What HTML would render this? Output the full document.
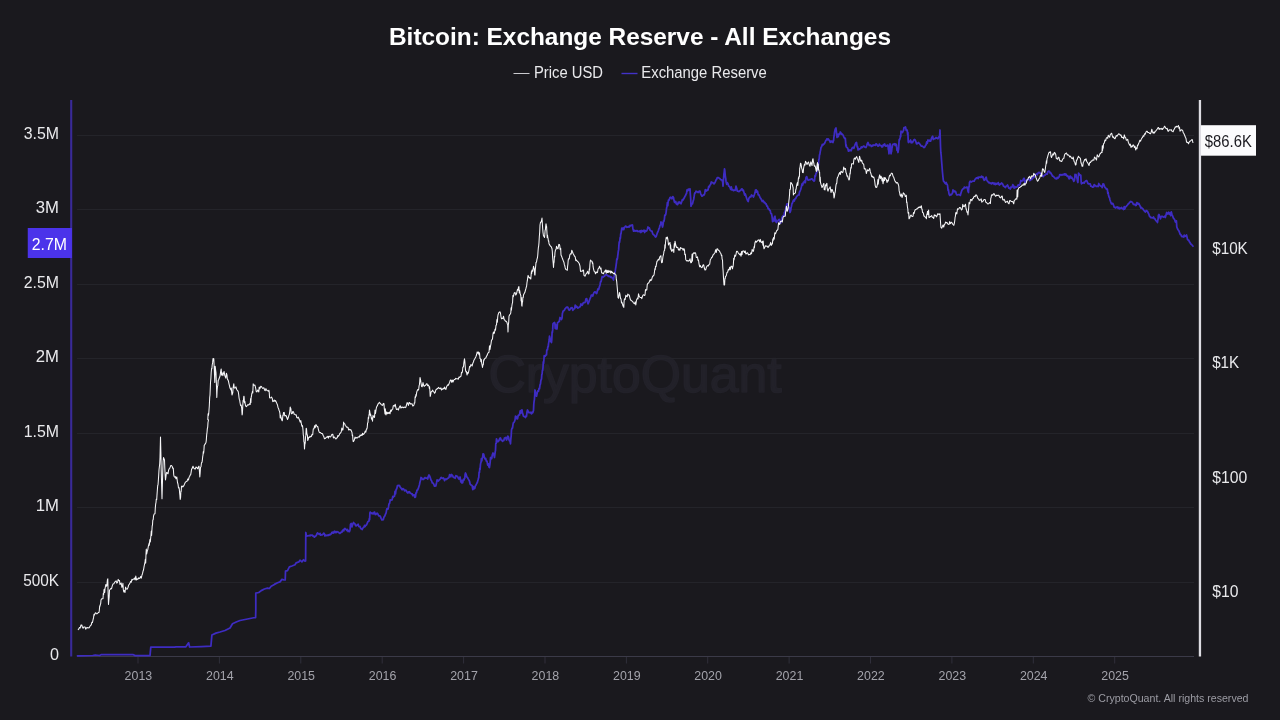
<!DOCTYPE html>
<html lang="en"><head><meta charset="utf-8"><title>Bitcoin: Exchange Reserve - All Exchanges</title>
<style>
html,body{margin:0;padding:0;background:#1a191e;}
body{width:1280px;height:720px;position:relative;overflow:hidden;font-family:"Liberation Sans",sans-serif;}
svg text{font-family:"Liberation Sans",sans-serif;}
</style></head><body>
<svg width="1280" height="720" viewBox="0 0 1280 720" style="position:absolute;left:0;top:0">
<text x="635" y="391.5" text-anchor="middle" font-size="52" fill="#222129" textLength="293" lengthAdjust="spacingAndGlyphs" stroke="#222129" stroke-width="1.6" stroke-linejoin="round">CryptoQuant</text>
<line x1="77" x2="1194" y1="135.5" y2="135.5" stroke="#24242a" stroke-width="1"/>
<line x1="77" x2="1194" y1="209.5" y2="209.5" stroke="#24242a" stroke-width="1"/>
<line x1="77" x2="1194" y1="284.5" y2="284.5" stroke="#24242a" stroke-width="1"/>
<line x1="77" x2="1194" y1="358.5" y2="358.5" stroke="#24242a" stroke-width="1"/>
<line x1="77" x2="1194" y1="433.5" y2="433.5" stroke="#24242a" stroke-width="1"/>
<line x1="77" x2="1194" y1="507.5" y2="507.5" stroke="#24242a" stroke-width="1"/>
<line x1="77" x2="1194" y1="582.5" y2="582.5" stroke="#24242a" stroke-width="1"/>
<line x1="77" x2="1194" y1="656.5" y2="656.5" stroke="#3b3a48" stroke-width="1"/>
<line x1="138.0" x2="138.0" y1="657" y2="663.5" stroke="#302f3b" stroke-width="1"/>
<line x1="219.4" x2="219.4" y1="657" y2="663.5" stroke="#302f3b" stroke-width="1"/>
<line x1="300.8" x2="300.8" y1="657" y2="663.5" stroke="#302f3b" stroke-width="1"/>
<line x1="382.2" x2="382.2" y1="657" y2="663.5" stroke="#302f3b" stroke-width="1"/>
<line x1="463.6" x2="463.6" y1="657" y2="663.5" stroke="#302f3b" stroke-width="1"/>
<line x1="545.0" x2="545.0" y1="657" y2="663.5" stroke="#302f3b" stroke-width="1"/>
<line x1="626.4" x2="626.4" y1="657" y2="663.5" stroke="#302f3b" stroke-width="1"/>
<line x1="707.7" x2="707.7" y1="657" y2="663.5" stroke="#302f3b" stroke-width="1"/>
<line x1="789.1" x2="789.1" y1="657" y2="663.5" stroke="#302f3b" stroke-width="1"/>
<line x1="870.5" x2="870.5" y1="657" y2="663.5" stroke="#302f3b" stroke-width="1"/>
<line x1="951.9" x2="951.9" y1="657" y2="663.5" stroke="#302f3b" stroke-width="1"/>
<line x1="1033.3" x2="1033.3" y1="657" y2="663.5" stroke="#302f3b" stroke-width="1"/>
<line x1="1114.7" x2="1114.7" y1="657" y2="663.5" stroke="#302f3b" stroke-width="1"/>
<rect x="70.15" y="100" width="2.1" height="556.5" fill="#392a98"/>
<rect x="1198.8" y="100" width="2.3" height="556.5" fill="#dddce2"/>
<path d="M77.5,655.8 L92.8,655.5 L95.2,655.0 L99.6,655.5 L101.5,654.5 L132.8,654.5 L135.2,655.6 L150.0,655.6 L150.8,647.2 L174.6,647.2 L175.9,646.8 L185.9,646.8 L188.6,642.8 L189.6,647.0 L201.5,646.6 L210.9,646.2 L211.9,635.0 L215.9,633.1 L220.0,632.0 L225.0,630.5 L230.0,628.0 L232.5,623.8 L236.2,622.0 L240.0,620.5 L245.0,619.5 L250.0,618.5 L255.0,617.5 L255.6,617.5 L255.8,609.5 L255.8,593.1 L258.8,592.5 L261.2,590.6 L264.4,589.0 L267.5,588.1 L269.4,588.5 L271.2,586.2 L274.4,584.4 L277.5,582.8 L280.0,581.9 L281.9,579.4 L283.8,579.8 L285.2,580.0 L285.5,571.2 L287.5,570.6 L289.4,566.9 L291.9,566.0 L295.0,564.8 L296.2,562.8 L298.8,561.9 L300.0,560.2 L301.9,561.9 L303.5,559.8 L305.0,561.2 L305.6,561.0 L305.8,532.5 L306.5,536.2 L308.8,535.6 L309.4,535.4 L310.0,535.8 L310.6,535.2 L311.2,535.2 L311.9,535.3 L312.5,535.2 L313.1,536.2 L313.8,536.2 L314.4,537.2 L315.0,536.5 L315.6,536.0 L316.2,535.7 L316.9,533.9 L317.5,532.8 L318.1,533.6 L318.8,534.0 L319.4,534.4 L320.0,533.3 L320.6,535.2 L321.2,534.8 L321.9,534.9 L322.5,534.6 L323.1,534.0 L323.8,533.2 L324.4,533.8 L325.0,536.0 L325.6,535.2 L326.2,535.3 L326.9,535.7 L327.5,535.2 L328.1,535.1 L328.8,535.4 L329.4,534.4 L330.0,534.8 L330.6,534.4 L331.2,533.8 L331.9,532.3 L332.5,532.2 L333.1,533.2 L333.8,532.0 L334.4,531.2 L335.0,532.6 L335.6,531.6 L336.2,532.5 L336.9,531.6 L337.5,531.9 L338.1,532.0 L338.8,532.6 L339.4,533.1 L340.0,533.4 L340.6,532.9 L341.2,532.1 L341.9,532.2 L342.5,530.4 L343.1,530.0 L343.8,530.8 L344.4,528.8 L345.0,528.4 L345.6,529.3 L346.2,529.4 L346.9,530.5 L347.5,529.4 L348.1,531.5 L348.8,531.0 L349.4,531.6 L350.0,530.0 L350.5,524.4 L351.2,523.5 L351.9,526.9 L352.7,524.3 L353.5,522.5 L354.2,523.4 L354.9,523.8 L355.6,525.6 L356.2,525.8 L356.9,525.2 L357.5,525.0 L358.1,524.2 L358.8,526.4 L359.4,526.7 L360.0,526.5 L360.8,528.6 L361.5,528.8 L362.1,529.5 L362.8,528.2 L363.4,527.5 L364.0,527.0 L364.6,525.4 L365.2,526.5 L365.9,525.0 L366.5,525.0 L367.1,523.6 L367.8,521.9 L368.4,521.2 L369.0,521.2 L369.3,518.7 L369.6,519.6 L369.9,513.1 L370.2,512.1 L370.5,512.5 L371.2,512.8 L372.0,513.8 L372.8,513.0 L373.4,513.8 L374.0,512.3 L374.6,512.1 L375.2,514.5 L375.9,514.6 L376.5,513.6 L377.1,513.1 L377.8,513.8 L378.4,515.2 L379.0,516.0 L379.6,515.8 L380.2,516.2 L381.1,518.4 L382.0,520.0 L382.7,519.4 L383.3,519.6 L384.0,517.0 L384.7,516.1 L385.4,514.4 L386.1,512.8 L386.8,508.8 L387.5,509.0 L388.0,509.1 L388.5,506.9 L389.0,503.8 L389.6,503.3 L390.2,499.9 L390.9,500.3 L391.5,500.0 L392.1,499.9 L392.8,496.3 L393.4,497.0 L394.0,496.2 L394.5,496.1 L395.0,491.3 L395.5,493.8 L396.0,490.0 L396.8,488.5 L397.5,485.5 L398.2,485.4 L398.8,485.7 L399.5,485.5 L400.2,487.2 L400.8,487.8 L401.5,488.8 L402.1,489.8 L402.8,488.6 L403.4,489.0 L404.0,489.5 L404.6,490.8 L405.2,490.4 L405.9,490.1 L406.5,491.2 L407.1,492.3 L407.8,493.0 L408.4,491.8 L409.0,492.5 L409.6,491.8 L410.2,493.0 L410.9,493.3 L411.5,493.8 L412.2,493.9 L412.8,495.7 L413.5,495.0 L414.2,494.8 L414.8,497.4 L415.5,497.0 L415.9,493.4 L416.2,492.4 L416.6,492.7 L417.0,490.0 L417.7,490.0 L418.3,488.4 L419.0,486.2 L419.4,485.0 L419.8,483.0 L420.2,481.2 L420.6,480.1 L421.0,477.5 L421.7,478.0 L422.3,479.1 L423.0,479.5 L423.7,479.3 L424.3,478.2 L425.0,477.5 L425.7,478.2 L426.3,478.2 L427.0,478.0 L427.7,479.0 L428.3,476.3 L429.0,475.0 L429.7,476.1 L430.3,477.9 L431.0,480.0 L431.7,481.0 L432.3,482.9 L433.0,483.0 L433.8,484.2 L434.5,486.2 L435.2,485.6 L435.8,486.0 L436.5,483.0 L437.1,479.9 L437.8,480.5 L438.4,481.0 L439.0,480.0 L439.6,479.7 L440.2,479.0 L440.9,477.7 L441.5,477.5 L442.1,478.3 L442.8,478.3 L443.4,478.0 L444.0,478.8 L444.6,480.7 L445.2,479.4 L445.9,478.9 L446.5,479.5 L447.1,478.9 L447.8,478.3 L448.4,477.9 L449.0,477.5 L449.6,474.7 L450.2,476.1 L450.8,476.8 L451.4,474.5 L452.0,475.0 L452.6,475.6 L453.2,477.1 L453.9,477.6 L454.5,477.5 L455.1,478.3 L455.8,475.6 L456.4,476.3 L457.0,476.2 L457.6,476.6 L458.2,478.0 L458.9,479.1 L459.5,478.8 L460.1,477.0 L460.8,482.0 L461.4,480.4 L462.0,483.0 L462.7,482.7 L463.3,479.5 L464.0,480.0 L464.4,478.5 L464.8,478.2 L465.1,474.5 L465.5,473.0 L466.2,474.7 L466.8,476.9 L467.5,477.5 L468.2,478.9 L468.8,479.9 L469.5,481.2 L470.2,484.2 L470.8,484.9 L471.5,485.0 L472.1,485.6 L472.8,489.6 L473.4,486.7 L474.0,488.8 L474.7,488.5 L475.3,486.0 L476.0,485.0 L476.7,483.5 L477.3,482.5 L478.0,480.0 L478.4,478.4 L478.8,477.2 L479.1,472.2 L479.5,472.5 L479.8,468.3 L480.1,469.4 L480.4,465.1 L480.7,463.0 L481.0,462.5 L481.4,458.6 L481.8,460.8 L482.2,458.3 L482.6,457.6 L483.0,453.8 L483.7,454.3 L484.3,457.1 L485.0,458.8 L485.7,458.5 L486.3,461.1 L487.0,461.2 L487.7,465.2 L488.3,463.9 L489.0,467.0 L489.4,467.6 L489.8,465.1 L490.2,461.8 L490.6,457.5 L491.0,458.8 L491.7,458.7 L492.3,454.8 L493.0,453.0 L493.8,454.4 L494.5,457.5 L494.8,455.0 L495.2,451.8 L495.5,450.3 L495.8,443.5 L496.2,443.5 L496.5,438.8 L497.2,441.0 L497.8,441.8 L498.5,441.2 L499.2,440.0 L499.8,438.3 L500.5,438.0 L501.2,440.1 L501.8,440.3 L502.5,441.2 L503.2,440.3 L503.8,440.5 L504.5,438.0 L505.2,438.4 L505.8,437.3 L506.5,440.0 L507.2,438.6 L507.8,436.2 L508.5,437.0 L509.0,439.8 L509.5,440.8 L510.0,441.2 L510.5,443.8 L510.8,439.2 L511.2,435.8 L511.5,430.0 L512.0,428.2 L512.5,428.2 L513.0,424.3 L513.5,422.5 L514.0,422.4 L514.5,421.4 L515.0,420.0 L515.5,416.2 L516.2,416.5 L516.8,418.7 L517.5,418.8 L518.2,415.5 L518.8,415.1 L519.5,415.0 L520.2,410.9 L520.8,413.0 L521.5,410.0 L522.0,409.9 L522.5,413.1 L523.0,414.4 L523.5,416.2 L524.2,416.6 L524.8,416.6 L525.5,417.5 L526.0,416.0 L526.5,416.3 L527.0,411.9 L527.5,410.0 L528.2,411.3 L528.8,412.6 L529.5,412.5 L530.2,412.8 L530.8,412.3 L531.5,413.8 L532.2,412.1 L532.8,412.7 L533.5,410.5 L533.8,404.0 L534.1,401.4 L534.4,399.7 L534.7,395.2 L535.0,390.0 L535.4,391.6 L535.8,394.3 L536.1,394.9 L536.5,396.2 L537.2,393.1 L537.8,391.0 L538.5,391.2 L539.0,388.5 L539.5,388.8 L540.0,384.8 L540.5,383.8 L540.8,380.9 L541.2,379.5 L541.5,379.0 L541.8,374.5 L542.1,374.2 L542.4,370.4 L542.7,370.3 L543.0,367.5 L543.3,361.8 L543.6,363.5 L543.9,359.8 L544.2,355.7 L544.5,356.2 L545.2,356.4 L545.8,355.2 L546.5,355.0 L546.8,349.9 L547.2,350.0 L547.5,349.8 L547.8,346.8 L548.2,346.8 L548.5,343.8 L548.8,342.3 L549.2,339.7 L549.5,336.2 L550.0,338.3 L550.5,341.2 L551.0,341.8 L551.5,342.5 L551.8,339.4 L552.1,332.0 L552.4,332.5 L552.7,329.4 L553.0,323.8 L553.8,322.9 L554.5,322.5 L554.9,323.4 L555.2,328.4 L555.6,324.6 L556.0,328.8 L556.5,327.8 L557.0,328.9 L557.5,322.8 L558.0,322.5 L558.7,321.7 L559.3,321.5 L560.0,317.5 L560.8,318.4 L561.5,319.5 L561.8,318.7 L562.1,317.5 L562.4,313.2 L562.7,312.8 L563.0,311.2 L563.7,310.7 L564.3,310.4 L565.0,308.8 L565.7,308.1 L566.3,307.4 L567.0,307.0 L567.7,307.0 L568.3,308.6 L569.0,310.0 L569.6,310.2 L570.2,309.1 L570.9,307.8 L571.5,308.0 L572.1,307.6 L572.8,310.3 L573.4,309.4 L574.0,308.8 L574.6,308.7 L575.2,305.2 L575.9,307.4 L576.5,306.2 L577.1,306.9 L577.8,308.2 L578.4,307.5 L579.0,307.5 L579.6,306.8 L580.2,306.7 L580.9,303.9 L581.5,305.0 L582.1,305.3 L582.8,304.0 L583.4,302.5 L584.0,302.5 L584.7,302.7 L585.3,301.9 L586.0,298.8 L586.7,298.7 L587.3,301.3 L588.0,303.8 L588.7,302.4 L589.3,300.6 L590.0,298.8 L590.7,297.1 L591.3,295.2 L592.0,295.0 L592.7,296.1 L593.3,294.3 L594.0,292.5 L594.7,291.8 L595.3,291.9 L596.0,293.0 L596.7,293.5 L597.3,291.3 L598.0,288.8 L598.7,289.5 L599.3,287.1 L600.0,285.0 L600.5,281.9 L601.0,281.7 L601.5,279.5 L602.1,276.6 L602.8,277.2 L603.4,277.0 L604.0,276.2 L604.6,276.2 L605.2,274.8 L605.9,274.8 L606.5,274.5 L607.1,275.3 L607.8,275.7 L608.4,276.3 L609.0,276.2 L609.6,276.6 L610.2,276.4 L610.9,277.4 L611.5,277.0 L612.2,278.0 L612.8,278.2 L613.5,280.0 L613.9,277.2 L614.2,276.2 L614.6,274.2 L615.0,272.5 L615.3,270.7 L615.6,268.5 L615.9,266.8 L616.2,264.3 L616.5,262.5 L616.8,258.9 L617.1,259.6 L617.4,258.8 L617.7,256.1 L618.0,253.8 L618.3,251.2 L618.6,249.9 L618.9,245.6 L619.2,242.0 L619.5,242.5 L619.8,240.8 L620.1,237.7 L620.4,238.3 L620.7,233.9 L621.0,233.8 L621.8,228.2 L622.5,229.5 L623.1,228.0 L623.8,229.6 L624.4,227.3 L625.0,227.0 L625.6,226.1 L626.2,226.5 L626.9,227.3 L627.5,227.0 L628.1,227.0 L628.8,226.4 L629.4,227.0 L630.0,225.5 L630.6,225.9 L631.2,225.2 L631.9,225.5 L632.5,225.0 L632.9,229.0 L633.2,229.5 L633.6,231.2 L634.0,231.2 L634.6,230.3 L635.2,230.8 L635.9,231.2 L636.5,230.5 L637.1,230.5 L637.8,231.6 L638.4,231.5 L639.0,231.2 L639.6,231.7 L640.2,230.7 L640.9,232.5 L641.5,230.5 L642.1,231.6 L642.8,230.7 L643.4,231.1 L644.0,231.2 L644.0,230.0 L644.7,232.5 L645.3,230.6 L646.0,231.2 L646.7,230.8 L647.3,229.5 L648.0,227.0 L648.7,228.0 L649.3,227.8 L650.0,230.0 L650.7,230.6 L651.3,231.1 L652.0,231.2 L652.7,233.7 L653.3,234.6 L654.0,235.0 L654.8,236.0 L655.5,237.0 L656.2,236.5 L656.8,234.6 L657.5,232.5 L658.2,231.1 L658.8,229.2 L659.5,227.5 L660.0,225.3 L660.5,224.8 L661.0,222.0 L661.5,222.2 L662.0,224.4 L662.5,227.0 L663.0,225.1 L663.5,221.0 L664.0,221.2 L664.4,219.1 L664.8,215.2 L665.1,215.6 L665.5,215.0 L665.8,214.1 L666.1,212.3 L666.4,209.7 L666.7,207.7 L667.0,206.2 L667.4,202.6 L667.8,205.8 L668.1,202.3 L668.5,200.0 L669.2,199.9 L670.0,197.5 L670.7,197.2 L671.3,198.2 L672.0,198.8 L672.8,196.6 L673.5,197.5 L674.0,200.3 L674.5,202.2 L675.0,202.5 L675.7,201.5 L676.3,203.8 L677.0,204.5 L677.7,204.5 L678.3,202.1 L679.0,203.0 L679.7,201.9 L680.3,202.7 L681.0,203.8 L681.7,201.8 L682.3,199.7 L683.0,200.0 L683.7,198.8 L684.3,197.8 L685.0,196.2 L685.5,195.6 L686.0,194.1 L686.5,193.6 L687.0,190.0 L687.7,190.8 L688.3,189.1 L689.0,190.0 L690.0,188.8 L690.3,193.9 L690.7,198.9 L691.0,206.2 L691.8,203.9 L692.5,203.8 L692.9,202.1 L693.2,200.6 L693.6,199.8 L694.0,197.5 L694.5,193.8 L695.0,192.7 L695.5,192.8 L696.0,191.2 L696.7,191.5 L697.3,191.8 L698.0,192.5 L698.7,192.0 L699.3,191.1 L700.0,191.2 L700.7,193.8 L701.3,195.0 L702.0,196.2 L702.7,195.8 L703.3,194.9 L704.0,195.0 L704.7,193.6 L705.3,189.6 L706.0,191.2 L706.7,190.1 L707.3,190.4 L708.0,190.0 L708.7,186.5 L709.3,186.9 L710.0,185.0 L710.7,184.3 L711.3,182.0 L712.0,182.5 L712.7,182.7 L713.3,183.1 L714.0,183.8 L714.7,183.0 L715.3,181.9 L716.0,180.0 L716.7,179.1 L717.3,177.5 L718.0,177.5 L718.7,177.8 L719.3,178.3 L720.0,178.8 L720.7,179.7 L721.3,179.8 L722.0,180.0 L722.3,181.0 L722.7,182.2 L723.0,186.2 L723.3,182.2 L723.6,178.2 L723.9,174.1 L724.2,172.1 L724.5,168.8 L724.8,170.5 L725.1,173.9 L725.4,177.0 L725.7,178.2 L726.0,181.2 L726.7,184.3 L727.3,182.6 L728.0,183.8 L728.7,186.2 L729.3,186.4 L730.0,187.5 L730.7,189.4 L731.3,186.9 L732.0,190.0 L732.7,189.6 L733.3,190.5 L734.0,190.5 L734.7,189.8 L735.3,190.3 L736.0,186.2 L736.7,188.3 L737.3,191.1 L738.0,191.2 L738.7,191.6 L739.3,191.4 L740.0,190.5 L740.7,190.3 L741.3,189.2 L742.0,188.8 L742.7,190.5 L743.3,190.1 L744.0,192.5 L744.7,195.0 L745.3,193.9 L746.0,196.2 L746.8,198.7 L747.5,200.5 L748.2,201.6 L748.8,198.3 L749.5,197.5 L750.2,196.7 L750.8,196.9 L751.5,195.0 L752.2,195.7 L752.8,195.6 L753.5,197.0 L754.0,195.6 L754.5,194.3 L755.0,192.8 L755.5,190.0 L756.2,189.8 L756.8,192.2 L757.5,191.2 L758.2,194.9 L758.8,194.6 L759.5,196.2 L760.2,197.8 L760.8,198.3 L761.5,200.0 L762.2,201.5 L762.8,200.3 L763.5,201.2 L764.2,202.7 L764.8,202.5 L765.5,203.8 L766.2,203.9 L766.8,206.1 L767.5,206.2 L768.2,208.9 L768.8,208.7 L769.5,210.0 L770.2,210.5 L770.8,213.4 L771.5,213.8 L771.9,215.6 L772.2,217.9 L772.6,221.6 L773.0,221.2 L773.7,221.0 L774.3,217.3 L775.0,216.2 L775.4,221.1 L775.8,219.4 L776.1,222.1 L776.5,222.5 L777.2,221.1 L777.8,220.8 L778.5,220.0 L779.2,219.4 L780.0,222.5 L780.7,223.0 L781.3,220.8 L782.0,217.5 L782.7,216.1 L783.3,215.5 L784.0,216.2 L784.4,212.3 L784.8,214.8 L785.1,210.9 L785.5,210.0 L785.9,208.3 L786.2,206.4 L786.6,205.1 L787.0,203.8 L787.8,203.9 L788.5,206.2 L788.9,207.8 L789.2,207.3 L789.6,210.8 L790.0,212.5 L790.4,211.4 L790.8,210.1 L791.1,207.5 L791.5,206.2 L792.0,203.3 L792.5,203.1 L793.0,201.2 L793.7,200.0 L794.3,201.0 L795.0,198.8 L795.7,198.6 L796.3,197.0 L797.0,196.2 L797.7,195.5 L798.3,194.9 L799.0,195.0 L799.5,192.0 L800.0,191.2 L800.5,190.0 L800.9,188.9 L801.2,187.6 L801.6,186.1 L802.0,183.8 L802.7,185.0 L803.3,182.4 L804.0,182.5 L804.7,180.8 L805.3,182.6 L806.0,177.5 L806.7,176.6 L807.3,178.7 L808.0,180.0 L808.7,180.0 L809.3,179.8 L810.0,179.5 L810.7,179.5 L811.3,178.8 L812.0,178.8 L812.7,179.9 L813.3,180.5 L814.0,181.2 L814.5,180.7 L815.0,175.3 L815.5,176.2 L816.0,173.3 L816.5,172.9 L817.0,171.2 L817.4,167.9 L817.8,166.0 L818.1,166.5 L818.5,163.8 L818.8,159.9 L819.2,158.8 L819.5,155.0 L819.9,154.2 L820.2,151.7 L820.6,150.1 L821.0,147.5 L821.7,146.6 L822.3,144.5 L823.0,145.0 L823.7,144.1 L824.3,143.8 L825.0,142.5 L825.7,140.7 L826.3,139.9 L827.0,138.8 L827.7,139.8 L828.3,138.9 L829.0,140.0 L829.7,140.9 L830.3,142.3 L831.0,141.2 L831.7,141.2 L832.3,142.2 L833.0,142.5 L833.3,140.3 L833.6,140.7 L833.9,137.0 L834.2,135.8 L834.5,132.5 L835.2,129.3 L836.0,128.0 L836.3,131.1 L836.7,134.3 L837.0,137.5 L837.7,134.3 L838.3,136.6 L839.0,133.8 L839.7,134.2 L840.3,132.0 L841.0,133.0 L841.7,134.3 L842.3,134.2 L843.0,135.0 L843.7,136.7 L844.3,137.9 L845.0,138.8 L845.3,138.3 L845.6,141.9 L845.9,146.2 L846.2,144.9 L846.5,147.5 L847.2,147.6 L847.8,148.5 L848.5,151.2 L849.2,149.9 L849.8,150.7 L850.5,150.0 L851.2,150.7 L851.8,148.7 L852.5,147.5 L853.2,147.3 L853.8,148.4 L854.5,146.2 L855.2,144.4 L855.8,143.0 L856.5,142.5 L856.9,145.1 L857.2,147.0 L857.6,146.7 L858.0,150.0 L858.7,148.7 L859.3,149.4 L860.0,148.8 L860.7,148.5 L861.3,146.9 L862.0,147.5 L862.7,146.9 L863.3,146.2 L864.0,146.2 L864.7,147.0 L865.3,147.0 L866.0,147.5 L866.7,145.7 L867.3,143.7 L868.0,142.5 L868.7,144.3 L869.3,145.5 L870.0,145.0 L870.7,145.1 L871.3,146.5 L872.0,146.2 L872.7,145.2 L873.3,145.5 L874.0,145.0 L874.7,145.2 L875.3,145.4 L876.0,143.8 L876.7,144.2 L877.3,145.3 L878.0,146.2 L878.7,146.0 L879.3,144.2 L880.0,145.0 L880.7,145.7 L881.3,145.7 L882.0,147.0 L882.7,146.7 L883.3,144.7 L884.0,145.0 L884.7,143.9 L885.3,145.9 L886.0,146.2 L886.7,146.0 L887.3,145.0 L888.0,145.0 L888.3,149.2 L888.7,150.4 L889.0,153.8 L889.3,149.5 L889.7,147.8 L890.0,143.8 L890.3,144.8 L890.7,149.4 L891.0,153.8 L891.3,152.0 L891.6,151.5 L891.9,148.3 L892.2,147.2 L892.5,145.0 L893.2,144.1 L893.8,144.4 L894.5,143.8 L895.2,145.5 L895.8,144.0 L896.5,145.0 L896.9,150.3 L897.2,147.8 L897.6,150.6 L898.0,152.5 L898.3,150.3 L898.6,149.0 L898.9,143.2 L899.2,139.5 L899.5,140.0 L899.8,139.1 L900.1,137.7 L900.4,135.7 L900.7,136.8 L901.0,131.2 L901.8,132.0 L902.5,132.5 L903.0,131.2 L903.5,130.5 L904.0,127.5 L904.8,127.5 L905.5,127.0 L906.2,130.3 L907.0,130.0 L907.3,130.7 L907.6,134.5 L907.9,132.5 L908.2,141.2 L908.5,142.5 L909.2,141.3 L909.8,141.7 L910.5,140.0 L911.2,142.8 L911.8,141.7 L912.5,142.5 L913.2,141.2 L913.8,140.0 L914.5,139.5 L915.2,140.0 L915.8,141.6 L916.5,143.8 L917.2,143.8 L917.8,142.9 L918.5,142.5 L919.2,143.4 L919.8,144.0 L920.5,145.0 L921.2,146.1 L921.8,146.2 L922.5,146.2 L923.2,146.8 L924.0,147.5 L924.7,147.3 L925.3,145.7 L926.0,145.0 L926.7,141.9 L927.3,143.4 L928.0,140.0 L928.7,140.8 L929.3,140.1 L930.0,141.2 L930.7,141.1 L931.3,138.8 L932.0,137.0 L932.7,136.3 L933.3,139.5 L934.0,138.8 L934.7,138.6 L935.3,138.6 L936.0,137.5 L936.7,138.1 L937.3,138.2 L938.0,138.8 L938.8,136.8 L939.5,137.5 L940.0,130.0 L940.5,146.2 L940.8,152.2 L941.2,155.5 L941.5,160.0 L941.8,163.8 L942.2,168.8 L942.5,172.5 L942.8,175.5 L943.2,179.3 L943.5,181.2 L944.2,181.7 L944.8,182.9 L945.5,183.8 L946.2,182.5 L946.8,184.2 L947.5,185.0 L947.8,187.7 L948.1,190.4 L948.4,189.7 L948.7,191.8 L949.0,193.8 L949.7,195.4 L950.3,194.3 L951.0,195.0 L951.7,194.2 L952.3,193.7 L953.0,190.0 L953.7,190.4 L954.3,191.8 L955.0,191.2 L955.7,191.7 L956.3,194.0 L957.0,195.0 L957.7,194.8 L958.3,194.7 L959.0,194.5 L959.7,194.9 L960.3,195.5 L961.0,193.0 L961.7,190.8 L962.3,189.5 L963.0,188.8 L963.7,188.7 L964.3,187.1 L965.0,187.5 L965.7,187.7 L966.3,187.6 L967.0,187.0 L967.5,188.4 L968.0,191.4 L968.5,192.5 L968.8,186.9 L969.2,186.9 L969.5,182.5 L970.2,181.2 L970.8,181.7 L971.5,182.0 L972.2,181.3 L972.8,181.2 L973.5,181.2 L974.2,181.2 L974.8,179.7 L975.5,178.8 L976.2,178.0 L976.8,178.3 L977.5,177.5 L978.2,178.5 L978.8,177.2 L979.5,177.0 L980.2,177.0 L980.8,177.4 L981.5,176.2 L982.2,177.3 L982.8,176.7 L983.5,178.8 L984.2,180.3 L984.8,179.9 L985.5,178.0 L986.2,177.1 L986.8,180.1 L987.5,181.2 L988.2,182.0 L988.8,182.8 L989.5,182.5 L990.2,183.4 L990.8,183.1 L991.5,183.8 L992.2,182.7 L992.8,183.3 L993.5,183.0 L994.2,184.3 L994.8,183.1 L995.5,184.5 L996.2,183.5 L996.8,184.0 L997.5,183.8 L998.2,182.6 L998.8,184.4 L999.5,185.0 L1000.2,184.0 L1000.8,184.1 L1001.5,183.0 L1002.2,183.4 L1002.8,184.3 L1003.5,186.2 L1004.2,186.4 L1004.8,187.0 L1005.5,187.5 L1006.2,186.0 L1006.8,185.8 L1007.5,185.0 L1008.2,186.7 L1008.8,188.2 L1009.5,188.0 L1010.2,189.0 L1010.8,187.1 L1011.5,187.5 L1012.2,186.8 L1012.8,184.7 L1013.5,186.2 L1014.2,188.2 L1014.8,186.5 L1015.5,187.5 L1016.2,187.1 L1016.8,187.1 L1017.5,186.2 L1018.2,184.8 L1018.8,185.8 L1019.5,185.0 L1020.2,183.7 L1020.8,180.5 L1021.5,181.2 L1022.2,180.7 L1022.8,180.7 L1023.5,178.8 L1024.2,178.3 L1025.0,182.5 L1025.8,182.1 L1026.5,180.0 L1027.2,179.7 L1027.8,179.5 L1028.5,178.8 L1029.2,179.5 L1029.8,180.6 L1030.5,180.0 L1031.2,179.1 L1031.8,179.4 L1032.5,178.0 L1033.2,177.1 L1033.8,177.5 L1034.5,176.2 L1035.2,174.7 L1035.8,174.5 L1036.5,173.8 L1037.2,174.7 L1037.8,173.3 L1038.5,172.5 L1039.2,172.8 L1039.8,172.4 L1040.5,173.8 L1041.2,173.8 L1041.8,175.6 L1042.5,176.2 L1043.2,176.6 L1043.8,175.8 L1044.5,175.0 L1045.2,175.0 L1045.8,174.1 L1046.5,173.8 L1047.2,174.2 L1047.8,171.7 L1048.5,171.2 L1049.2,171.2 L1049.8,172.8 L1050.5,172.5 L1051.2,173.8 L1051.8,174.7 L1052.5,176.2 L1053.2,176.2 L1053.8,176.9 L1054.5,177.5 L1055.2,178.4 L1055.8,178.6 L1056.5,178.8 L1057.2,177.4 L1057.8,178.3 L1058.5,177.5 L1059.2,176.7 L1059.8,174.5 L1060.5,174.5 L1061.2,175.2 L1061.8,174.6 L1062.5,175.0 L1063.2,174.3 L1063.8,174.8 L1064.5,173.8 L1065.2,175.2 L1065.8,174.0 L1066.5,175.0 L1067.2,176.2 L1067.8,175.8 L1068.5,177.5 L1069.2,178.9 L1069.8,176.3 L1070.5,176.2 L1071.2,178.2 L1071.8,177.3 L1072.5,178.8 L1073.2,179.8 L1073.8,181.3 L1074.5,180.0 L1075.0,174.5 L1075.5,175.7 L1076.0,174.5 L1076.4,176.9 L1076.8,177.7 L1077.1,178.6 L1077.5,181.2 L1077.9,182.5 L1078.2,177.6 L1078.6,173.2 L1079.0,173.8 L1079.8,175.1 L1080.5,175.0 L1080.8,175.4 L1081.2,182.5 L1081.5,183.8 L1082.2,182.9 L1082.8,183.0 L1083.5,182.5 L1084.2,183.1 L1084.8,181.8 L1085.5,181.2 L1086.2,180.6 L1086.8,180.7 L1087.5,182.5 L1088.2,183.9 L1088.8,183.9 L1089.5,183.8 L1090.2,183.8 L1090.8,186.2 L1091.5,186.2 L1092.2,186.9 L1092.8,187.2 L1093.5,187.0 L1094.2,184.6 L1094.8,185.8 L1095.5,185.5 L1096.2,186.4 L1096.8,186.5 L1097.5,186.2 L1098.2,186.5 L1098.8,183.5 L1099.5,185.0 L1100.2,185.6 L1100.8,186.2 L1101.5,186.2 L1102.2,187.6 L1103.0,183.8 L1103.7,184.0 L1104.3,185.9 L1105.0,187.5 L1105.7,187.9 L1106.3,189.0 L1107.0,188.8 L1107.4,189.7 L1107.8,193.5 L1108.1,192.3 L1108.5,195.0 L1109.0,197.0 L1109.5,197.6 L1110.0,200.0 L1110.8,202.1 L1111.5,203.8 L1112.2,203.6 L1112.8,203.3 L1113.5,205.0 L1114.2,207.1 L1114.8,207.3 L1115.5,208.0 L1116.2,207.2 L1116.8,207.5 L1117.5,207.0 L1118.2,208.4 L1118.8,207.3 L1119.5,208.8 L1120.2,208.2 L1120.8,208.3 L1121.5,207.5 L1122.2,208.6 L1122.8,208.5 L1123.5,209.5 L1124.2,206.7 L1124.8,209.0 L1125.5,207.0 L1126.2,206.6 L1126.8,205.7 L1127.5,205.0 L1128.2,203.9 L1128.8,203.6 L1129.5,202.5 L1130.2,202.0 L1130.8,201.4 L1131.5,202.0 L1132.2,202.1 L1132.8,203.1 L1133.5,204.5 L1134.2,204.4 L1134.8,204.3 L1135.5,205.5 L1136.2,205.3 L1136.8,202.6 L1137.5,203.0 L1138.2,204.2 L1138.8,203.4 L1139.5,205.0 L1140.2,206.2 L1140.8,208.0 L1141.5,207.5 L1142.2,208.5 L1142.8,208.5 L1143.5,210.0 L1144.2,210.7 L1144.8,211.5 L1145.5,212.0 L1146.2,210.5 L1146.8,211.1 L1147.5,211.2 L1148.2,213.1 L1148.8,214.0 L1149.5,216.2 L1150.2,216.7 L1150.8,217.7 L1151.5,217.5 L1152.2,217.9 L1152.8,217.8 L1153.5,217.0 L1154.2,218.6 L1154.8,218.7 L1155.5,220.0 L1156.2,220.8 L1156.8,221.4 L1157.5,222.5 L1157.8,220.4 L1158.1,219.0 L1158.4,215.2 L1158.7,215.6 L1159.0,214.5 L1159.8,216.6 L1160.5,218.8 L1161.2,216.5 L1162.0,216.2 L1162.7,216.5 L1163.3,217.1 L1164.0,217.0 L1164.7,216.2 L1165.3,217.5 L1166.0,215.0 L1166.7,212.5 L1167.3,214.0 L1168.0,213.8 L1168.7,212.2 L1169.3,214.0 L1170.0,213.0 L1170.7,215.7 L1171.3,211.9 L1172.0,214.5 L1172.7,216.1 L1173.3,217.9 L1174.0,218.8 L1174.7,219.7 L1175.3,221.8 L1176.0,222.5 L1176.4,220.8 L1176.8,226.9 L1177.1,227.7 L1177.5,228.8 L1178.2,230.0 L1178.8,230.6 L1179.5,232.5 L1180.2,234.4 L1180.8,234.5 L1181.5,236.2 L1182.2,236.7 L1182.8,236.4 L1183.5,237.0 L1184.2,235.1 L1184.8,236.5 L1185.5,236.2 L1186.5,235.0 L1187.0,237.0 L1187.5,239.4 L1188.0,240.0 L1188.7,240.0 L1189.3,241.6 L1190.0,242.5 L1190.7,243.9 L1191.3,244.3 L1192.0,245.0 L1193.0,246.2" fill="none" stroke="#3e2cc2" stroke-width="1.75" stroke-linejoin="round" stroke-linecap="round"/>
<path d="M78.0,630.0 L78.8,628.9 L79.5,627.5 L80.2,627.9 L81.0,625.0 L81.8,625.0 L82.5,627.5 L83.1,628.3 L83.8,627.0 L84.4,626.9 L85.0,627.0 L85.7,629.2 L86.3,627.8 L87.0,628.0 L87.8,627.5 L88.5,627.9 L89.2,627.8 L90.0,626.2 L90.6,625.3 L91.2,625.1 L91.9,622.2 L92.5,622.5 L93.0,619.9 L93.5,617.9 L94.0,614.4 L94.5,615.0 L95.1,613.2 L95.8,612.8 L96.4,613.8 L97.0,613.8 L97.7,613.2 L98.3,612.6 L99.0,612.5 L99.3,610.5 L99.7,605.8 L100.0,606.1 L100.3,604.6 L100.7,603.5 L101.0,600.0 L101.7,598.7 L102.3,598.8 L103.0,598.8 L103.3,593.3 L103.7,594.5 L104.0,589.6 L104.3,589.4 L104.7,592.5 L105.0,588.8 L105.8,584.5 L106.5,586.2 L106.8,585.9 L107.1,583.1 L107.4,580.0 L107.8,578.8 L108.1,592.5 L108.5,604.5 L108.8,600.7 L109.2,596.8 L109.5,590.0 L110.2,589.3 L110.8,588.6 L111.5,588.8 L112.2,586.2 L113.0,583.9 L113.8,583.8 L114.6,582.4 L115.5,581.2 L116.2,580.9 L116.8,583.2 L117.5,582.5 L118.2,579.4 L119.0,580.8 L119.5,580.6 L120.0,584.5 L120.6,583.9 L121.2,583.0 L121.9,587.3 L122.5,585.8 L122.9,583.3 L123.3,589.4 L123.8,592.0 L124.4,590.5 L125.0,592.4 L125.6,587.1 L126.2,588.8 L127.1,589.3 L128.0,587.5 L128.7,584.9 L129.3,584.3 L130.0,583.0 L130.6,581.4 L131.2,582.3 L131.9,579.4 L132.5,580.0 L133.2,579.2 L133.8,579.1 L134.5,578.0 L135.1,579.9 L135.8,576.1 L136.4,580.0 L137.0,578.8 L137.8,579.4 L138.5,577.9 L139.2,578.5 L140.0,578.0 L140.7,576.4 L141.3,578.1 L142.0,575.0 L142.5,573.7 L143.0,571.3 L143.5,570.0 L143.9,567.7 L144.2,565.9 L144.6,564.0 L145.0,562.5 L145.3,559.2 L145.7,563.1 L146.0,553.9 L146.3,549.0 L146.7,553.9 L147.0,552.5 L147.4,550.5 L147.8,549.7 L148.2,546.9 L148.6,545.2 L149.0,543.8 L149.5,542.5 L150.0,540.0 L149.0,545.0 L149.3,545.2 L149.7,540.8 L150.0,539.3 L150.3,542.0 L150.7,537.7 L151.0,535.0 L151.3,531.1 L151.6,535.4 L151.9,530.5 L152.2,525.9 L152.5,525.0 L152.8,519.9 L153.2,519.7 L153.5,516.2 L154.2,513.9 L155.0,513.8 L155.3,508.0 L155.7,503.8 L156.0,502.5 L156.3,499.0 L156.7,499.6 L157.0,495.0 L157.3,490.8 L157.7,485.6 L158.0,485.0 L158.3,481.3 L158.7,475.1 L159.0,470.0 L159.3,467.4 L159.7,463.9 L160.0,457.5 L160.5,437.0 L160.9,453.2 L161.2,470.0 L161.6,484.1 L162.0,498.8 L162.4,484.3 L162.8,470.0 L163.1,461.6 L163.5,457.5 L164.5,460.0 L164.8,467.9 L165.2,475.9 L165.5,480.0 L165.8,477.8 L166.2,474.6 L166.5,472.5 L167.2,472.8 L168.0,473.8 L168.5,470.6 L169.0,468.9 L169.5,468.8 L170.2,467.1 L170.8,465.5 L171.5,465.5 L172.2,466.5 L173.0,468.8 L173.3,468.3 L173.7,474.4 L174.0,476.2 L174.7,477.1 L175.3,476.5 L176.0,478.8 L176.8,477.0 L177.5,482.5 L178.0,484.2 L178.5,487.9 L179.0,487.5 L179.3,489.1 L179.6,492.6 L179.9,495.4 L180.2,499.5 L180.6,497.4 L180.9,491.1 L181.2,491.4 L181.5,486.2 L182.2,486.0 L182.8,487.0 L183.5,486.2 L184.4,484.4 L185.2,482.5 L186.1,481.6 L187.0,481.2 L187.8,479.0 L188.5,480.0 L189.1,477.2 L189.7,476.2 L190.2,475.0 L190.7,474.7 L191.1,472.3 L191.6,469.0 L192.0,468.8 L193.0,466.2 L193.8,468.1 L194.5,468.8 L195.2,469.1 L196.0,467.0 L196.9,467.7 L197.8,468.8 L198.4,466.9 L199.0,466.2 L199.4,470.9 L199.8,477.0 L200.1,473.8 L200.5,467.5 L201.0,466.8 L201.5,462.5 L202.0,462.5 L202.3,460.7 L202.7,456.6 L203.0,455.0 L203.3,451.6 L203.6,453.3 L203.9,450.6 L204.2,445.6 L204.5,445.0 L205.2,443.9 L206.0,442.5 L206.3,440.1 L206.7,434.6 L207.0,432.5 L207.3,428.9 L207.7,427.1 L208.0,422.5 L208.5,420.0 L207.8,419.5 L208.1,413.7 L208.4,415.4 L208.7,413.8 L209.0,410.0 L209.3,406.0 L209.7,397.5 L210.0,395.0 L210.5,382.5 L210.9,378.1 L211.2,372.5 L211.6,368.4 L211.9,368.6 L212.2,365.0 L212.6,362.9 L213.0,358.5 L213.8,358.8 L214.2,367.5 L214.8,382.5 L215.2,366.2 L215.6,369.8 L216.0,372.5 L216.4,383.6 L216.8,397.5 L217.1,390.8 L217.5,386.2 L217.8,385.8 L218.2,380.4 L218.5,380.0 L219.5,377.5 L219.8,376.8 L220.2,375.1 L220.5,372.5 L220.9,370.2 L221.2,369.0 L221.6,375.1 L221.9,372.3 L222.2,373.8 L222.9,375.6 L223.5,373.1 L224.1,371.5 L224.8,375.6 L225.8,378.1 L226.4,373.2 L227.0,375.2 L227.3,378.7 L227.7,379.6 L228.0,380.0 L228.5,381.3 L229.0,383.8 L229.5,385.8 L230.0,388.1 L231.0,390.0 L231.3,388.1 L231.7,392.1 L232.0,395.0 L232.8,392.5 L233.1,387.6 L233.4,386.2 L233.8,383.8 L234.2,387.6 L234.8,388.1 L235.4,387.6 L236.0,386.9 L236.5,389.1 L237.0,390.0 L238.0,391.2 L238.3,392.0 L238.7,394.6 L239.0,397.5 L239.3,399.4 L239.7,400.3 L240.0,402.5 L240.6,405.6 L241.2,405.0 L241.7,408.3 L242.1,415.0 L242.4,413.6 L242.8,405.0 L243.1,400.2 L243.4,401.2 L243.8,396.2 L244.1,396.5 L244.4,402.7 L244.8,401.2 L245.1,403.2 L245.4,405.3 L245.8,406.2 L246.4,406.7 L247.1,405.6 L247.9,404.7 L248.8,405.0 L249.5,403.7 L250.2,404.4 L250.6,398.5 L250.9,402.6 L251.2,397.0 L251.5,396.2 L251.8,393.5 L252.2,392.9 L252.5,391.2 L252.8,392.9 L253.2,383.8 L253.5,385.0 L254.1,385.2 L254.8,385.0 L255.2,386.1 L255.8,388.8 L256.2,391.3 L256.8,391.9 L257.8,390.0 L258.8,391.9 L259.2,387.1 L259.8,388.8 L260.8,386.2 L261.4,386.4 L262.0,387.5 L262.8,388.4 L263.5,387.8 L264.0,388.0 L264.6,390.2 L265.2,390.7 L265.9,388.6 L266.5,390.0 L267.2,390.5 L267.8,390.7 L268.5,391.2 L268.9,390.3 L269.2,391.9 L269.6,397.7 L270.0,398.0 L270.8,397.8 L271.5,397.0 L272.2,398.2 L272.8,401.6 L273.5,401.2 L274.2,400.0 L274.8,401.3 L275.5,400.5 L276.2,402.0 L276.8,403.4 L277.5,405.0 L278.0,407.4 L278.5,408.4 L279.0,410.2 L279.5,411.2 L279.9,413.3 L280.2,418.0 L280.6,415.3 L281.0,417.5 L282.0,420.5 L282.3,420.8 L282.6,418.5 L282.9,415.0 L283.2,415.6 L283.5,412.5 L284.2,412.4 L284.8,416.0 L285.5,415.5 L286.2,415.7 L286.8,417.5 L287.5,419.5 L288.2,417.8 L289.0,415.0 L289.3,414.6 L289.6,412.7 L289.9,410.7 L290.2,407.0 L290.6,408.3 L290.9,408.6 L291.2,413.1 L291.5,413.8 L292.2,413.5 L292.8,411.5 L293.5,412.0 L294.2,414.3 L294.8,414.3 L295.5,415.0 L296.2,414.8 L296.8,417.6 L297.5,418.0 L298.2,417.1 L298.8,418.3 L299.5,420.0 L300.2,422.1 L300.8,420.6 L301.5,424.5 L302.0,426.4 L302.5,425.6 L303.0,430.0 L303.3,435.2 L303.6,436.2 L303.9,441.7 L304.2,442.4 L304.5,449.0 L304.8,444.5 L305.2,443.1 L305.5,437.5 L305.8,435.4 L306.2,428.2 L306.5,428.8 L306.8,432.7 L307.1,434.9 L307.4,434.8 L307.7,440.4 L308.0,440.0 L308.7,437.3 L309.3,437.4 L310.0,436.2 L310.7,436.9 L311.3,436.5 L312.0,434.5 L312.7,434.8 L313.3,428.8 L314.0,428.8 L314.6,425.7 L315.2,427.6 L315.9,424.5 L316.5,425.5 L317.2,426.8 L317.8,426.6 L318.5,430.0 L319.2,432.1 L319.8,432.6 L320.5,432.5 L321.2,433.5 L321.8,433.4 L322.5,433.8 L323.2,435.5 L323.8,436.6 L324.5,438.8 L325.2,438.6 L325.8,437.9 L326.5,437.0 L327.1,437.2 L327.8,436.2 L328.4,438.2 L329.0,436.2 L329.6,436.2 L330.2,437.0 L330.9,436.6 L331.5,435.0 L332.1,434.5 L332.8,434.2 L333.4,437.9 L334.0,437.0 L334.7,437.2 L335.3,438.4 L336.0,439.0 L336.6,438.0 L337.2,437.8 L337.9,435.5 L338.5,436.2 L339.2,435.0 L339.8,433.5 L340.5,433.0 L341.2,432.0 L341.8,428.0 L342.5,430.0 L342.9,430.0 L343.2,427.5 L343.6,422.0 L344.0,423.8 L344.7,423.7 L345.3,425.5 L346.0,426.2 L346.7,427.3 L347.3,427.1 L348.0,427.5 L348.7,430.0 L349.3,429.2 L350.0,430.0 L350.7,429.6 L351.3,430.8 L352.0,432.5 L352.3,435.7 L352.6,434.9 L352.9,439.5 L353.2,441.6 L353.5,441.5 L354.2,440.3 L355.0,437.0 L355.7,438.3 L356.3,437.5 L357.0,438.0 L357.6,437.7 L358.2,436.9 L358.9,436.7 L359.5,437.0 L360.1,435.0 L360.8,435.7 L361.4,434.8 L362.0,435.5 L362.6,433.2 L363.2,434.4 L363.9,434.1 L364.5,433.0 L365.2,431.1 L365.8,432.2 L366.5,428.8 L366.9,429.0 L367.2,427.6 L367.6,422.9 L368.0,422.5 L368.3,417.2 L368.6,418.6 L368.9,415.6 L369.2,413.9 L369.5,410.0 L369.9,412.4 L370.2,415.5 L370.6,414.1 L371.0,416.2 L371.5,419.1 L372.0,417.9 L372.5,421.2 L373.0,415.3 L373.5,417.1 L374.0,416.2 L374.5,417.4 L375.0,410.1 L375.5,413.4 L376.0,410.0 L376.5,407.2 L377.0,406.2 L377.5,405.4 L378.0,403.8 L378.7,403.7 L379.3,402.3 L380.0,403.0 L380.7,403.8 L381.3,404.8 L382.0,405.0 L382.7,405.4 L383.3,403.4 L384.0,403.8 L384.3,408.6 L384.7,411.1 L385.0,413.9 L385.3,408.7 L385.7,413.5 L386.0,415.0 L386.7,411.9 L387.3,413.8 L388.0,412.5 L388.7,413.5 L389.3,412.1 L390.0,413.8 L390.7,410.0 L391.3,411.2 L392.0,409.5 L392.7,409.1 L393.3,405.7 L394.0,405.5 L394.6,406.2 L395.2,404.2 L395.9,407.6 L396.5,409.5 L397.1,409.3 L397.8,408.9 L398.4,410.0 L399.0,408.0 L399.6,406.8 L400.2,405.7 L400.9,408.0 L401.5,407.5 L402.1,406.8 L402.8,407.5 L403.4,407.8 L404.0,407.0 L404.6,407.2 L405.2,407.6 L405.9,407.0 L406.5,405.0 L407.1,402.5 L407.8,403.7 L408.4,405.4 L409.0,402.5 L409.6,402.5 L410.2,404.2 L410.9,403.6 L411.5,404.0 L412.1,403.8 L412.8,406.0 L413.4,405.8 L414.0,405.0 L414.4,402.7 L414.8,403.0 L415.1,396.9 L415.5,397.5 L415.9,394.6 L416.2,396.1 L416.6,392.9 L417.0,391.2 L417.8,389.5 L418.5,390.0 L418.8,388.4 L419.1,385.6 L419.4,384.9 L419.7,381.8 L420.0,377.5 L420.3,378.7 L420.6,380.1 L420.9,382.5 L421.2,384.1 L421.5,386.2 L422.2,386.7 L423.0,382.5 L423.7,385.6 L424.3,386.3 L425.0,385.5 L425.7,385.3 L426.3,384.1 L427.0,383.8 L427.7,385.7 L428.3,385.0 L429.0,386.2 L429.3,388.5 L429.6,386.8 L429.9,391.0 L430.2,396.4 L430.5,395.5 L431.2,391.6 L432.0,391.2 L432.7,390.1 L433.3,391.6 L434.0,392.0 L434.6,393.3 L435.2,392.4 L435.9,389.7 L436.5,389.5 L437.1,388.6 L437.8,388.6 L438.4,387.4 L439.0,388.0 L439.6,388.5 L440.2,388.7 L440.9,387.9 L441.5,390.0 L442.1,389.1 L442.8,389.1 L443.4,388.2 L444.0,388.8 L444.6,387.1 L445.2,388.8 L445.9,389.4 L446.5,387.0 L447.1,385.8 L447.8,384.8 L448.4,385.2 L449.0,383.8 L449.7,382.2 L450.3,380.1 L451.0,380.0 L451.7,382.3 L452.3,380.1 L453.0,382.0 L453.7,380.3 L454.3,379.5 L455.0,379.5 L455.7,378.4 L456.3,378.8 L457.0,378.8 L457.7,378.8 L458.3,379.2 L459.0,377.0 L459.7,377.4 L460.3,376.5 L461.0,376.2 L461.5,372.3 L462.0,372.8 L462.5,371.2 L462.8,367.4 L463.2,366.9 L463.5,366.9 L463.8,363.3 L464.2,360.4 L464.5,358.8 L464.8,361.1 L465.2,366.2 L465.5,370.0 L466.0,371.9 L466.5,371.6 L467.0,375.0 L467.7,372.5 L468.3,373.1 L469.0,370.0 L469.6,366.4 L470.2,366.9 L470.9,364.6 L471.5,365.0 L472.1,366.0 L472.8,363.4 L473.4,362.0 L474.0,360.0 L474.6,359.3 L475.2,357.9 L475.9,356.7 L476.5,355.0 L477.2,351.9 L477.8,353.3 L478.5,352.0 L479.0,354.8 L479.5,352.7 L480.0,358.6 L480.5,358.8 L480.9,361.8 L481.3,359.4 L481.7,363.1 L482.1,365.2 L482.5,367.5 L482.9,364.8 L483.3,364.7 L483.7,359.8 L484.1,360.1 L484.5,358.8 L485.2,358.2 L485.8,358.0 L486.5,356.2 L487.2,355.1 L487.8,353.4 L488.5,352.5 L489.0,352.2 L489.5,345.8 L490.0,349.5 L490.5,346.2 L491.0,343.8 L491.5,340.1 L492.0,339.8 L492.5,338.8 L493.0,333.9 L493.5,332.0 L494.0,333.5 L494.5,332.5 L495.0,329.2 L495.5,330.1 L496.0,325.2 L496.5,325.0 L496.8,320.6 L497.1,319.2 L497.4,322.2 L497.7,317.0 L498.0,315.0 L498.8,312.6 L499.5,312.0 L500.0,311.9 L500.5,313.3 L501.0,316.8 L501.5,318.8 L502.2,318.4 L502.8,318.5 L503.5,316.2 L504.2,319.7 L504.8,320.0 L505.5,321.2 L506.2,321.2 L507.0,322.5 L507.3,324.0 L507.7,324.5 L508.0,332.0 L508.3,324.8 L508.7,322.3 L509.0,316.2 L509.8,314.5 L510.5,313.8 L510.8,312.7 L511.1,307.7 L511.4,310.2 L511.7,307.3 L512.0,305.0 L512.3,303.3 L512.6,302.3 L512.9,295.5 L513.2,296.9 L513.5,296.2 L514.2,292.9 L515.0,292.5 L515.8,295.1 L516.5,293.8 L517.0,291.7 L517.5,289.4 L518.0,290.3 L518.5,287.0 L518.9,286.6 L519.3,292.9 L519.7,290.5 L520.1,293.3 L520.5,295.0 L520.8,295.5 L521.1,301.0 L521.4,297.6 L521.7,305.3 L522.0,306.2 L522.3,302.4 L522.6,301.8 L522.9,297.3 L523.2,297.7 L523.5,295.0 L524.2,293.6 L524.8,292.6 L525.5,290.0 L525.9,288.7 L526.2,287.4 L526.6,286.3 L527.0,282.5 L527.4,280.2 L527.8,277.1 L528.1,275.4 L528.5,276.2 L529.2,277.9 L529.8,277.5 L530.5,278.8 L530.8,279.0 L531.1,275.3 L531.4,271.6 L531.7,273.5 L532.0,270.0 L532.8,271.2 L533.5,266.2 L533.8,267.7 L534.1,268.0 L534.4,269.9 L534.7,274.9 L535.0,275.0 L535.3,269.7 L535.7,265.9 L536.0,262.5 L536.5,262.1 L537.0,259.2 L537.5,257.5 L537.8,254.7 L538.1,250.5 L538.4,247.3 L538.7,245.8 L539.0,242.5 L539.3,237.0 L539.7,232.0 L540.0,225.0 L540.5,222.3 L541.0,222.2 L541.5,220.6 L542.0,218.0 L542.3,223.0 L542.7,228.7 L543.0,232.5 L543.5,236.0 L544.0,236.2 L544.5,237.5 L544.8,234.9 L545.1,230.2 L545.4,229.9 L545.7,226.3 L546.0,223.8 L546.3,225.4 L546.6,226.7 L546.9,231.6 L547.2,237.6 L547.5,235.0 L547.8,237.6 L548.1,238.7 L548.4,241.1 L548.7,240.9 L549.0,243.8 L549.8,245.1 L550.5,246.2 L551.2,246.6 L552.0,248.8 L552.3,251.3 L552.6,256.7 L552.9,260.4 L553.2,263.5 L553.5,267.5 L553.8,263.0 L554.1,262.0 L554.4,256.4 L554.7,257.0 L555.0,252.5 L555.4,250.3 L555.8,249.4 L556.1,249.3 L556.5,246.2 L557.2,248.2 L558.0,248.8 L558.8,244.4 L559.5,244.5 L559.8,246.1 L560.1,249.4 L560.4,248.7 L560.7,248.4 L561.0,255.0 L561.8,256.8 L562.5,258.8 L563.2,260.6 L564.0,262.5 L564.4,264.9 L564.8,265.8 L565.1,267.4 L565.5,268.8 L566.2,269.6 L567.0,270.0 L567.3,270.3 L567.6,266.4 L567.9,264.3 L568.2,260.3 L568.5,258.8 L569.2,258.9 L569.8,255.1 L570.5,253.8 L571.2,254.0 L571.8,250.2 L572.5,252.0 L573.2,253.8 L573.8,254.7 L574.5,256.2 L575.2,256.9 L575.8,260.6 L576.5,260.0 L577.2,261.3 L577.8,261.5 L578.5,262.5 L579.2,263.5 L580.0,266.2 L580.5,271.4 L581.0,271.0 L581.5,271.2 L582.2,271.3 L583.0,270.0 L583.5,270.2 L584.0,275.4 L584.5,275.7 L585.0,276.2 L585.7,274.6 L586.3,273.6 L587.0,272.5 L587.7,271.2 L588.3,274.0 L589.0,273.8 L589.3,268.9 L589.6,269.8 L589.9,264.7 L590.2,261.6 L590.5,260.0 L591.2,261.0 L592.0,261.2 L592.4,263.5 L592.8,262.9 L593.1,266.7 L593.5,268.8 L594.2,271.4 L594.8,271.7 L595.5,273.8 L596.2,271.9 L596.8,272.7 L597.5,272.5 L598.0,269.2 L598.5,268.3 L599.0,267.9 L599.5,266.2 L600.0,267.7 L600.5,269.0 L601.0,268.0 L601.5,272.5 L602.2,273.3 L602.8,273.1 L603.5,273.8 L604.2,271.9 L604.8,271.5 L605.5,270.0 L606.2,273.2 L606.8,270.1 L607.5,272.5 L608.2,270.4 L608.8,272.5 L609.5,271.2 L610.1,270.8 L610.8,273.2 L611.4,271.2 L612.0,272.5 L612.6,272.2 L613.2,273.5 L613.9,273.7 L614.5,273.0 L615.2,274.6 L616.0,275.0 L616.3,279.2 L616.7,281.4 L617.0,285.0 L617.3,288.3 L617.7,293.0 L618.0,297.5 L618.5,298.2 L619.0,295.5 L619.5,292.5 L619.9,294.1 L620.2,296.2 L620.6,298.7 L621.0,298.8 L621.5,302.9 L622.0,302.3 L622.5,304.2 L623.0,306.2 L623.4,305.0 L623.8,307.4 L624.1,301.1 L624.5,298.8 L625.2,299.5 L625.8,295.2 L626.5,296.2 L627.2,296.7 L627.8,294.0 L628.5,295.0 L629.2,295.0 L629.8,297.3 L630.5,300.0 L631.2,300.3 L631.8,301.0 L632.5,301.2 L633.2,302.5 L633.8,303.2 L634.5,303.8 L635.2,301.9 L635.8,304.9 L636.5,300.0 L637.0,299.1 L637.5,298.1 L638.0,298.9 L638.5,293.8 L639.2,296.4 L639.8,297.1 L640.5,297.5 L641.2,297.4 L641.8,298.6 L642.5,296.2 L643.1,294.9 L643.8,294.7 L644.4,295.5 L645.0,295.0 L645.5,289.6 L646.0,290.2 L646.5,290.0 L646.8,290.0 L647.2,285.0 L647.5,283.8 L648.2,283.1 L648.8,282.9 L649.5,281.2 L650.2,279.6 L650.8,280.7 L651.5,280.0 L652.1,277.8 L652.8,275.9 L653.4,275.9 L654.0,275.0 L654.3,273.1 L654.6,270.7 L654.9,268.5 L655.2,269.8 L655.5,266.2 L656.0,266.7 L656.5,263.9 L657.0,261.2 L657.7,260.7 L658.3,259.3 L659.0,260.0 L659.8,256.8 L660.5,256.2 L660.9,255.7 L661.2,259.8 L661.6,262.7 L662.0,262.5 L662.3,262.3 L662.7,258.7 L663.0,256.2 L663.3,255.3 L663.7,253.4 L664.0,251.2 L664.3,250.6 L664.6,250.5 L664.9,244.7 L665.2,248.2 L665.5,242.5 L666.2,237.3 L667.0,238.8 L667.4,237.0 L667.8,239.0 L668.1,241.5 L668.5,245.0 L669.2,243.4 L670.0,242.5 L670.3,248.1 L670.6,244.7 L670.9,249.8 L671.2,248.8 L671.5,251.2 L672.2,251.0 L672.8,249.4 L673.5,250.0 L673.8,252.5 L674.1,246.4 L674.4,243.6 L674.7,247.3 L675.0,241.2 L675.4,243.2 L675.8,245.2 L676.1,245.7 L676.5,247.5 L677.2,247.3 L677.8,247.4 L678.5,250.0 L679.2,249.0 L679.8,250.3 L680.5,247.5 L681.2,248.3 L681.8,248.2 L682.5,248.8 L683.2,250.3 L683.8,248.6 L684.5,250.0 L684.8,254.6 L685.1,254.0 L685.4,254.4 L685.7,259.3 L686.0,260.0 L686.7,260.9 L687.3,260.5 L688.0,261.2 L688.7,260.7 L689.3,260.8 L690.0,258.8 L690.8,262.8 L691.5,262.5 L691.8,259.2 L692.1,254.1 L692.4,261.1 L692.7,255.0 L693.0,253.8 L693.7,252.9 L694.3,253.4 L695.0,252.5 L695.7,253.5 L696.3,257.5 L697.0,257.5 L697.5,256.9 L698.0,260.3 L698.5,260.0 L699.0,263.8 L699.7,266.8 L700.3,265.6 L701.0,267.0 L701.7,267.6 L702.3,267.2 L703.0,265.0 L703.7,264.8 L704.3,268.0 L705.0,270.0 L705.7,269.8 L706.3,267.6 L707.0,266.2 L707.7,265.5 L708.3,266.0 L709.0,264.5 L709.7,264.1 L710.3,259.7 L711.0,258.8 L711.7,257.3 L712.3,257.2 L713.0,255.0 L713.7,254.4 L714.3,253.5 L715.0,252.5 L715.7,249.7 L716.3,252.4 L717.0,248.8 L717.7,249.1 L718.3,250.2 L719.0,250.5 L719.7,251.5 L720.3,252.8 L721.0,253.8 L721.4,255.6 L721.8,255.3 L722.1,259.1 L722.5,260.0 L722.8,267.3 L723.1,270.8 L723.4,276.4 L723.7,280.9 L724.0,285.0 L724.3,283.3 L724.6,284.9 L724.9,278.5 L725.2,278.7 L725.5,276.2 L726.2,276.0 L727.0,272.5 L727.7,272.0 L728.3,269.6 L729.0,270.0 L729.7,267.2 L730.3,269.7 L731.0,266.2 L731.8,266.2 L732.5,268.8 L732.8,267.0 L733.1,266.3 L733.4,263.7 L733.7,258.4 L734.0,260.0 L734.8,255.1 L735.5,256.2 L736.0,254.4 L736.5,251.5 L737.0,251.2 L737.7,251.8 L738.3,253.0 L739.0,253.8 L739.7,254.8 L740.3,253.8 L741.0,256.2 L741.5,251.5 L742.0,254.6 L742.5,251.2 L743.2,251.0 L743.8,250.9 L744.5,252.5 L745.2,250.9 L745.8,253.9 L746.5,253.8 L747.1,252.8 L747.8,253.1 L748.4,254.9 L749.0,254.5 L749.6,254.6 L750.2,254.6 L750.9,252.8 L751.5,253.8 L752.2,249.4 L752.8,250.9 L753.5,251.2 L753.8,248.9 L754.1,246.5 L754.4,247.7 L754.7,244.9 L755.0,242.5 L755.7,241.0 L756.3,242.2 L757.0,241.2 L757.7,240.7 L758.3,239.9 L759.0,240.0 L759.7,241.9 L760.3,239.4 L761.0,242.0 L761.8,242.6 L762.5,241.2 L762.9,245.2 L763.2,241.1 L763.6,246.5 L764.0,248.8 L764.7,247.7 L765.3,245.7 L766.0,246.2 L766.7,246.1 L767.3,246.2 L768.0,247.5 L768.7,246.7 L769.3,245.2 L770.0,245.0 L770.7,242.4 L771.3,245.4 L772.0,243.8 L772.4,243.9 L772.8,239.1 L773.1,240.7 L773.5,237.5 L774.2,239.1 L774.8,232.8 L775.5,233.8 L776.2,231.9 L776.8,230.5 L777.5,230.0 L777.9,229.5 L778.2,226.3 L778.6,222.7 L779.0,223.8 L779.7,224.5 L780.3,221.7 L781.0,221.2 L781.7,221.0 L782.3,222.0 L783.0,217.5 L783.7,216.3 L784.3,216.2 L785.0,216.2 L785.3,216.0 L785.6,212.0 L785.9,211.2 L786.2,208.2 L786.5,206.2 L787.2,211.3 L788.0,208.8 L788.3,207.2 L788.6,203.9 L788.9,200.7 L789.2,198.5 L789.5,195.0 L789.8,189.4 L790.1,189.5 L790.4,188.9 L790.7,182.7 L791.0,182.5 L791.8,183.8 L792.5,185.0 L792.8,186.6 L793.1,187.5 L793.4,195.0 L793.7,193.4 L794.0,193.8 L794.8,193.5 L795.5,192.5 L795.8,189.3 L796.1,189.2 L796.4,186.7 L796.7,185.3 L797.0,183.8 L797.4,182.6 L797.8,185.4 L798.1,181.6 L798.5,177.5 L798.8,178.7 L799.1,176.1 L799.4,176.8 L799.7,168.3 L800.0,167.5 L800.5,163.2 L801.0,163.8 L801.3,165.9 L801.6,167.7 L801.9,169.1 L802.2,169.6 L802.5,172.5 L802.9,172.2 L803.2,172.6 L803.6,168.2 L804.0,166.2 L804.5,164.2 L805.0,165.1 L805.5,161.2 L806.2,162.4 L807.0,164.5 L807.8,162.8 L808.5,162.0 L809.2,164.7 L810.0,166.2 L810.8,161.9 L811.5,163.8 L812.0,165.6 L812.5,160.2 L813.0,158.8 L813.4,161.6 L813.8,163.1 L814.1,165.2 L814.5,166.2 L815.2,166.0 L816.0,170.0 L816.4,171.5 L816.8,167.3 L817.1,164.9 L817.5,162.5 L817.9,170.3 L818.2,163.9 L818.6,169.5 L819.0,170.0 L819.3,172.3 L819.6,172.2 L819.9,181.2 L820.2,177.1 L820.5,182.5 L821.0,184.4 L821.5,185.7 L822.0,187.5 L822.8,185.9 L823.5,183.8 L823.9,183.5 L824.2,189.5 L824.6,188.9 L825.0,190.0 L825.4,186.0 L825.8,184.6 L826.1,185.8 L826.5,183.8 L826.9,183.4 L827.2,188.3 L827.6,190.0 L828.0,191.2 L828.8,188.8 L829.5,188.0 L830.2,186.9 L831.0,192.5 L831.8,189.5 L832.5,190.0 L833.0,192.2 L833.5,192.2 L834.0,198.0 L834.5,196.2 L834.8,193.2 L835.1,192.5 L835.4,190.8 L835.7,187.4 L836.0,185.0 L836.4,183.7 L836.8,183.2 L837.1,179.1 L837.5,177.5 L838.2,176.2 L839.0,173.8 L839.7,172.5 L840.3,174.5 L841.0,171.2 L841.7,171.7 L842.3,172.6 L843.0,172.0 L843.7,167.0 L844.3,169.2 L845.0,168.8 L845.5,168.5 L846.0,172.6 L846.5,173.5 L847.0,176.2 L847.7,176.0 L848.3,178.4 L849.0,180.0 L849.3,179.6 L849.6,178.0 L849.9,173.0 L850.2,174.0 L850.5,170.0 L850.9,167.3 L851.2,168.1 L851.6,163.7 L852.0,163.8 L852.7,163.8 L853.3,164.1 L854.0,158.8 L854.7,158.0 L855.3,159.2 L856.0,157.5 L856.7,156.6 L857.3,158.4 L858.0,160.0 L858.8,162.4 L859.5,156.2 L860.0,157.8 L860.5,160.5 L861.0,161.2 L861.7,160.1 L862.3,162.9 L863.0,163.8 L863.7,164.2 L864.3,169.0 L865.0,168.8 L865.7,168.9 L866.3,173.5 L867.0,171.2 L867.7,169.7 L868.3,170.8 L869.0,170.0 L869.7,168.4 L870.3,171.9 L871.0,173.8 L871.7,176.7 L872.3,176.1 L873.0,177.5 L873.8,177.0 L874.5,180.0 L874.9,182.8 L875.2,185.6 L875.6,186.5 L876.0,187.5 L876.8,187.2 L877.5,183.8 L877.9,179.5 L878.2,184.1 L878.6,180.4 L879.0,177.5 L879.7,174.9 L880.3,178.6 L881.0,176.2 L881.5,177.2 L882.0,181.0 L882.5,178.1 L883.0,183.8 L883.5,181.1 L884.0,177.4 L884.5,180.6 L885.0,177.5 L885.7,178.8 L886.3,179.4 L887.0,182.5 L887.7,180.2 L888.3,181.0 L889.0,177.5 L889.7,175.2 L890.3,175.8 L891.0,173.8 L891.7,173.1 L892.3,173.4 L893.0,176.2 L893.7,177.1 L894.3,179.1 L895.0,181.2 L895.7,181.9 L896.3,183.1 L897.0,182.5 L897.8,183.2 L898.5,185.0 L898.8,186.3 L899.1,190.4 L899.4,191.8 L899.7,192.9 L900.0,195.0 L900.7,196.1 L901.3,194.0 L902.0,197.5 L902.7,195.5 L903.3,192.8 L904.0,193.8 L904.7,194.2 L905.3,196.5 L906.0,196.2 L906.3,195.3 L906.6,202.5 L906.9,201.9 L907.2,204.9 L907.5,207.5 L907.8,208.9 L908.1,213.3 L908.4,213.0 L908.7,212.6 L909.0,218.8 L909.7,218.0 L910.3,216.0 L911.0,215.0 L911.7,216.1 L912.3,216.5 L913.0,216.2 L913.5,212.5 L914.0,213.5 L914.5,211.8 L915.0,210.0 L915.7,209.5 L916.3,209.3 L917.0,208.8 L917.7,208.7 L918.3,207.3 L919.0,207.5 L919.7,206.9 L920.3,207.7 L921.0,206.2 L921.4,205.8 L921.8,209.2 L922.1,209.0 L922.5,212.5 L923.2,212.7 L924.0,216.2 L924.7,216.2 L925.3,217.3 L926.0,217.5 L926.4,218.8 L926.8,214.0 L927.1,214.6 L927.5,211.2 L927.9,213.8 L928.2,214.5 L928.6,210.1 L929.0,217.5 L929.7,217.2 L930.3,216.7 L931.0,216.2 L931.7,215.6 L932.3,217.2 L933.0,217.5 L933.7,218.5 L934.3,214.8 L935.0,215.5 L935.7,215.3 L936.3,216.9 L937.0,216.2 L937.7,213.7 L938.3,213.9 L939.0,214.5 L940.0,213.8 L940.3,218.9 L940.7,224.7 L941.0,227.5 L941.7,228.2 L942.3,226.8 L943.0,225.0 L943.7,227.0 L944.3,224.6 L945.0,223.8 L945.7,222.0 L946.3,222.7 L947.0,222.5 L947.7,223.9 L948.3,224.3 L949.0,224.5 L949.7,221.6 L950.3,223.6 L951.0,222.5 L951.7,222.3 L952.3,223.6 L953.0,224.5 L953.8,225.3 L954.5,222.5 L954.8,220.2 L955.1,217.2 L955.4,216.3 L955.7,213.3 L956.0,212.5 L956.8,213.9 L957.5,208.8 L958.2,209.2 L958.8,208.9 L959.5,207.5 L960.2,207.5 L960.8,208.4 L961.5,210.0 L962.2,209.1 L962.8,204.4 L963.5,206.2 L964.2,206.7 L965.0,205.0 L965.5,204.3 L966.0,208.5 L966.5,210.0 L967.0,212.3 L967.5,211.9 L968.0,215.0 L968.3,211.5 L968.7,208.0 L969.0,202.5 L969.8,203.7 L970.5,199.5 L971.2,199.6 L971.8,200.7 L972.5,198.8 L973.2,198.5 L973.8,196.8 L974.5,196.2 L975.2,196.7 L975.8,194.9 L976.5,195.0 L977.2,196.5 L977.8,198.4 L978.5,198.8 L979.2,200.4 L979.8,199.9 L980.5,200.0 L981.2,198.9 L981.8,202.2 L982.5,201.2 L983.2,200.9 L983.8,199.8 L984.5,199.5 L985.2,199.5 L985.8,202.2 L986.5,202.5 L987.2,203.3 L987.8,204.0 L988.5,203.8 L989.2,203.0 L990.0,202.5 L990.4,203.5 L990.8,198.3 L991.1,197.6 L991.5,195.0 L992.2,194.8 L992.8,195.3 L993.5,193.8 L994.2,193.7 L994.8,195.1 L995.5,196.2 L996.2,195.8 L996.8,195.1 L997.5,195.5 L998.2,195.3 L998.8,195.2 L999.5,197.0 L1000.2,197.5 L1000.8,197.9 L1001.5,196.2 L1002.2,196.1 L1002.8,199.8 L1003.5,200.0 L1004.2,199.4 L1004.8,200.7 L1005.5,202.5 L1006.2,201.8 L1006.8,201.8 L1007.5,201.2 L1008.2,203.1 L1009.0,203.8 L1009.7,200.6 L1010.3,200.5 L1011.0,201.2 L1011.7,201.6 L1012.3,201.5 L1013.0,202.0 L1013.7,203.8 L1014.3,200.3 L1015.0,200.0 L1015.8,198.7 L1016.5,198.8 L1016.8,199.3 L1017.1,190.2 L1017.4,190.0 L1017.7,196.9 L1018.0,190.0 L1018.8,187.9 L1019.5,187.5 L1020.2,187.2 L1020.8,186.5 L1021.5,186.2 L1022.2,184.9 L1022.8,185.3 L1023.5,185.0 L1024.2,183.2 L1024.8,185.2 L1025.5,183.8 L1026.2,183.1 L1027.0,180.0 L1027.8,179.7 L1028.5,177.5 L1029.2,177.0 L1029.8,176.3 L1030.5,178.8 L1031.2,177.3 L1031.8,175.7 L1032.5,176.2 L1033.2,176.1 L1033.8,173.3 L1034.5,174.5 L1035.2,174.7 L1036.0,177.5 L1036.8,179.6 L1037.5,181.2 L1038.2,180.6 L1039.0,178.8 L1039.7,178.0 L1040.3,175.5 L1041.0,176.2 L1041.4,173.1 L1041.8,176.3 L1042.1,172.4 L1042.5,168.8 L1043.2,168.9 L1044.0,171.2 L1044.8,172.4 L1045.5,167.5 L1045.8,165.5 L1046.1,164.0 L1046.4,160.7 L1046.7,163.3 L1047.0,158.8 L1047.5,157.3 L1048.0,155.3 L1048.5,153.8 L1049.2,152.1 L1050.0,152.5 L1050.5,151.8 L1051.0,156.2 L1051.5,157.5 L1052.2,155.6 L1053.0,153.8 L1053.7,155.0 L1054.3,152.4 L1055.0,153.0 L1055.7,154.3 L1056.3,158.5 L1057.0,158.8 L1057.7,159.2 L1058.3,157.2 L1059.0,157.5 L1059.7,160.8 L1060.3,160.7 L1061.0,161.2 L1061.7,161.5 L1062.3,160.0 L1063.0,158.8 L1063.8,158.4 L1064.5,155.0 L1065.2,153.8 L1065.8,153.4 L1066.5,153.0 L1067.2,154.9 L1067.8,154.8 L1068.5,155.0 L1069.2,155.8 L1069.8,157.0 L1070.5,156.2 L1071.2,157.4 L1071.8,158.4 L1072.5,158.8 L1073.2,157.0 L1074.0,161.2 L1074.8,162.3 L1075.5,165.0 L1076.0,164.8 L1076.5,160.0 L1077.0,160.0 L1077.8,157.7 L1078.5,156.2 L1079.2,157.4 L1079.8,157.7 L1080.5,158.8 L1080.9,162.2 L1081.2,163.4 L1081.6,164.0 L1082.0,166.2 L1082.7,166.3 L1083.3,162.3 L1084.0,161.2 L1084.7,159.5 L1085.3,160.0 L1086.0,158.8 L1086.8,161.6 L1087.5,162.5 L1088.2,163.8 L1089.0,165.5 L1089.8,162.4 L1090.5,162.5 L1091.2,161.0 L1091.8,161.1 L1092.5,160.0 L1093.2,159.9 L1093.8,160.3 L1094.5,157.0 L1095.2,157.8 L1095.8,158.7 L1096.5,160.0 L1097.2,154.7 L1098.0,156.2 L1098.7,157.0 L1099.3,155.7 L1100.0,153.8 L1100.7,153.3 L1101.3,152.2 L1102.0,152.5 L1102.3,145.8 L1102.6,150.4 L1102.9,145.8 L1103.2,148.3 L1103.5,143.8 L1104.2,143.1 L1105.0,140.0 L1105.7,140.7 L1106.3,138.2 L1107.0,137.5 L1107.7,138.3 L1108.3,135.2 L1109.0,136.2 L1109.7,137.2 L1110.3,134.5 L1111.0,133.8 L1111.7,133.3 L1112.3,135.7 L1113.0,137.5 L1113.7,136.9 L1114.3,138.6 L1115.0,138.8 L1115.7,137.0 L1116.3,135.5 L1117.0,136.2 L1117.7,135.0 L1118.3,134.3 L1119.0,133.8 L1119.7,134.4 L1120.3,135.3 L1121.0,135.0 L1121.7,137.4 L1122.3,137.2 L1123.0,137.5 L1123.7,138.8 L1124.3,134.9 L1125.0,137.0 L1125.7,137.9 L1126.3,140.2 L1127.0,140.0 L1127.7,139.4 L1128.3,142.2 L1129.0,143.8 L1129.7,145.3 L1130.3,144.1 L1131.0,147.5 L1131.7,146.0 L1132.3,146.6 L1133.0,145.0 L1133.7,145.1 L1134.3,147.4 L1135.0,146.2 L1135.7,150.0 L1136.3,147.8 L1137.0,148.8 L1137.5,145.0 L1138.0,145.3 L1138.5,143.8 L1139.2,142.2 L1139.8,140.3 L1140.5,141.2 L1141.2,139.4 L1141.8,138.1 L1142.5,137.5 L1143.2,135.7 L1143.8,136.3 L1144.5,133.8 L1145.2,134.2 L1145.8,132.6 L1146.5,131.2 L1147.2,131.3 L1147.8,132.5 L1148.5,132.5 L1149.2,132.9 L1149.8,133.6 L1150.5,133.8 L1151.2,132.1 L1151.8,129.2 L1152.5,132.0 L1153.2,133.2 L1153.8,132.1 L1154.5,133.0 L1155.2,131.3 L1155.8,131.0 L1156.5,130.0 L1157.2,129.1 L1157.8,128.0 L1158.5,127.5 L1159.2,129.5 L1159.8,128.5 L1160.5,128.8 L1161.2,129.2 L1161.8,128.4 L1162.5,129.5 L1163.2,128.3 L1163.8,127.9 L1164.5,126.2 L1165.2,127.0 L1165.8,128.3 L1166.5,128.8 L1167.2,128.4 L1167.8,130.9 L1168.5,131.2 L1169.2,129.8 L1169.8,130.0 L1170.5,130.0 L1171.2,129.6 L1171.8,131.0 L1172.5,131.2 L1173.2,131.7 L1173.8,129.9 L1174.5,128.8 L1175.2,126.8 L1175.8,127.2 L1176.5,126.2 L1177.2,127.0 L1177.8,126.4 L1178.5,125.5 L1179.0,128.4 L1179.5,127.2 L1180.0,131.2 L1180.7,130.3 L1181.3,129.7 L1182.0,130.0 L1182.7,130.6 L1183.3,132.8 L1184.0,133.8 L1184.8,135.7 L1185.5,137.5 L1186.0,138.5 L1186.5,141.9 L1187.0,142.5 L1187.8,142.3 L1188.5,143.8 L1189.2,142.1 L1190.0,141.2 L1190.8,140.7 L1191.5,140.0 L1192.2,139.5 L1193.0,143.0" fill="none" stroke="#f6f6f8" stroke-width="1.05" stroke-linejoin="round"/>
<text x="59.0" y="138.9" text-anchor="end" font-size="16.3" fill="#e9e9ec" textLength="35.3" lengthAdjust="spacingAndGlyphs">3.5M</text>
<text x="59.0" y="213.3" text-anchor="end" font-size="16.3" fill="#e9e9ec" textLength="23.2" lengthAdjust="spacingAndGlyphs">3M</text>
<text x="59.0" y="287.8" text-anchor="end" font-size="16.3" fill="#e9e9ec" textLength="35.3" lengthAdjust="spacingAndGlyphs">2.5M</text>
<text x="59.0" y="362.2" text-anchor="end" font-size="16.3" fill="#e9e9ec" textLength="23.2" lengthAdjust="spacingAndGlyphs">2M</text>
<text x="59.0" y="436.6" text-anchor="end" font-size="16.3" fill="#e9e9ec" textLength="35.3" lengthAdjust="spacingAndGlyphs">1.5M</text>
<text x="59.0" y="511.0" text-anchor="end" font-size="16.3" fill="#e9e9ec" textLength="23.2" lengthAdjust="spacingAndGlyphs">1M</text>
<text x="59.0" y="585.5" text-anchor="end" font-size="16.3" fill="#e9e9ec" textLength="35.8" lengthAdjust="spacingAndGlyphs">500K</text>
<text x="59.0" y="659.9" text-anchor="end" font-size="16.3" fill="#e9e9ec" textLength="9.0" lengthAdjust="spacingAndGlyphs">0</text>
<text x="1212.2" y="254.4" font-size="16.3" fill="#e9e9ec" textLength="35.6" lengthAdjust="spacingAndGlyphs">$10K</text>
<text x="1212.2" y="368.2" font-size="16.3" fill="#e9e9ec" textLength="27.0" lengthAdjust="spacingAndGlyphs">$1K</text>
<text x="1212.2" y="482.6" font-size="16.3" fill="#e9e9ec" textLength="35.0" lengthAdjust="spacingAndGlyphs">$100</text>
<text x="1212.2" y="596.9" font-size="16.3" fill="#e9e9ec" textLength="26.2" lengthAdjust="spacingAndGlyphs">$10</text>
<text x="138.4" y="680" text-anchor="middle" font-size="12.3" fill="#a3a3ab" textLength="27.6" lengthAdjust="spacingAndGlyphs">2013</text>
<text x="219.8" y="680" text-anchor="middle" font-size="12.3" fill="#a3a3ab" textLength="27.6" lengthAdjust="spacingAndGlyphs">2014</text>
<text x="301.2" y="680" text-anchor="middle" font-size="12.3" fill="#a3a3ab" textLength="27.6" lengthAdjust="spacingAndGlyphs">2015</text>
<text x="382.6" y="680" text-anchor="middle" font-size="12.3" fill="#a3a3ab" textLength="27.6" lengthAdjust="spacingAndGlyphs">2016</text>
<text x="464.0" y="680" text-anchor="middle" font-size="12.3" fill="#a3a3ab" textLength="27.6" lengthAdjust="spacingAndGlyphs">2017</text>
<text x="545.4" y="680" text-anchor="middle" font-size="12.3" fill="#a3a3ab" textLength="27.6" lengthAdjust="spacingAndGlyphs">2018</text>
<text x="626.8" y="680" text-anchor="middle" font-size="12.3" fill="#a3a3ab" textLength="27.6" lengthAdjust="spacingAndGlyphs">2019</text>
<text x="708.1" y="680" text-anchor="middle" font-size="12.3" fill="#a3a3ab" textLength="27.6" lengthAdjust="spacingAndGlyphs">2020</text>
<text x="789.5" y="680" text-anchor="middle" font-size="12.3" fill="#a3a3ab" textLength="27.6" lengthAdjust="spacingAndGlyphs">2021</text>
<text x="870.9" y="680" text-anchor="middle" font-size="12.3" fill="#a3a3ab" textLength="27.6" lengthAdjust="spacingAndGlyphs">2022</text>
<text x="952.3" y="680" text-anchor="middle" font-size="12.3" fill="#a3a3ab" textLength="27.6" lengthAdjust="spacingAndGlyphs">2023</text>
<text x="1033.7" y="680" text-anchor="middle" font-size="12.3" fill="#a3a3ab" textLength="27.6" lengthAdjust="spacingAndGlyphs">2024</text>
<text x="1115.1" y="680" text-anchor="middle" font-size="12.3" fill="#a3a3ab" textLength="27.6" lengthAdjust="spacingAndGlyphs">2025</text>
<rect x="27.75" y="228" width="44.2" height="30" fill="#4b33ea"/>
<text x="49.3" y="250" text-anchor="middle" font-size="16.3" fill="#ffffff" textLength="35.2" lengthAdjust="spacingAndGlyphs">2.7M</text>
<rect x="1201" y="125.2" width="55" height="30.5" fill="#fbfbfd"/>
<text x="1228.3" y="146.8" text-anchor="middle" font-size="16.3" fill="#1a191f" textLength="47" lengthAdjust="spacingAndGlyphs">$86.6K</text>
<text x="640" y="45.2" text-anchor="middle" font-size="24.6" fill="#ffffff" textLength="502" lengthAdjust="spacingAndGlyphs" font-weight="700">Bitcoin: Exchange Reserve - All Exchanges</text>
<line x1="513.5" x2="529.5" y1="73.5" y2="73.5" stroke="#c9c9ce" stroke-width="1"/>
<text x="534" y="77.6" font-size="16.3" fill="#e9e9ec" textLength="69" lengthAdjust="spacingAndGlyphs">Price USD</text>
<line x1="621.5" x2="637.5" y1="73.5" y2="73.5" stroke="#4232c8" stroke-width="1.4"/>
<text x="641.3" y="77.6" font-size="16.3" fill="#e9e9ec" textLength="125.5" lengthAdjust="spacingAndGlyphs">Exchange Reserve</text>
<text x="1248.5" y="702.2" text-anchor="end" font-size="11.8" fill="#9c9ca4" textLength="161" lengthAdjust="spacingAndGlyphs">© CryptoQuant. All rights reserved</text>
</svg>
</body></html>
